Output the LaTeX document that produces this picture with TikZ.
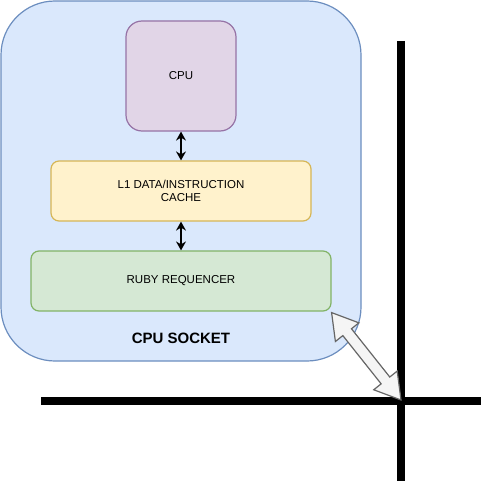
\documentclass[tikz,border=0pt]{standalone}
\usepackage{fontspec}
\setmainfont{Liberation Sans}
\usetikzlibrary{calc,arrows.meta}
\definecolor{sockfill}{HTML}{DAE8FC}\definecolor{sockdraw}{HTML}{6C8EBF}
\definecolor{cpufill}{HTML}{E1D5E7}\definecolor{cpudraw}{HTML}{9673A6}
\definecolor{l1fill}{HTML}{FFF2CC}\definecolor{l1draw}{HTML}{D6B656}
\definecolor{rbfill}{HTML}{D5E8D4}\definecolor{rbdraw}{HTML}{82B366}
\definecolor{arfill}{HTML}{F5F5F5}\definecolor{ardraw}{HTML}{666666}
\tikzset{
  box/.style={draw, line width=1.2pt, inner sep=0pt, align=center, font=\fontsize{11.5}{13.5}\selectfont},
  bus/.style={line width=8pt, draw=black},
  link/.style={line width=1.5pt, {Stealth[length=9pt,width=10pt,inset=3pt]}-{Stealth[length=9pt,width=10pt,inset=3pt]}},
}
\begin{document}
\begin{tikzpicture}[x=1pt,y=-1pt]
\useasboundingbox (0,0) rectangle (487,487);
\node[box, draw=sockdraw, fill=sockfill, rounded corners=54pt, minimum width=360pt, minimum height=360pt] (socket) at (181,181) {};
\node[box, draw=cpudraw, fill=cpufill, rounded corners=16pt, minimum width=110pt, minimum height=110pt] (cpu) at (181,76) {CPU};
\node[box, draw=l1draw, fill=l1fill, rounded corners=8pt, minimum width=260pt, minimum height=60pt] (l1) at (181,191) {L1 DATA/INSTRUCTION\\CACHE};
\node[box, draw=rbdraw, fill=rbfill, rounded corners=8pt, minimum width=300pt, minimum height=60pt] (ruby) at (181,281) {RUBY REQUENCER};
\node[font=\bfseries\fontsize{15}{17}\selectfont] (label) at (181,338) {CPU SOCKET};
\draw[link] (cpu.south) -- (l1.north);
\draw[link] (l1.south) -- (ruby.north);
\coordinate (vtop) at (401,41); \coordinate (vbot) at (401,481);
\coordinate (hleft) at (41,401); \coordinate (hright) at (481,401);
\draw[bus] (vtop) -- (vbot);
\draw[bus] (hleft) -- (hright);
\coordinate (A) at ($(ruby.south east)+(0,1)$);
\coordinate (B) at (401,400);
\coordinate (P1) at ($(A)!25pt!(B)$);
\coordinate (P2) at ($(B)!25pt!(A)$);
\draw[draw=ardraw, fill=arfill, line width=1.2pt, line join=miter]
  (A) -- ($(P1)!15pt!90:(B)$) -- ($(P1)!5.5pt!90:(B)$) -- ($(P2)!5.5pt!-90:(A)$) -- ($(P2)!15pt!-90:(A)$)
  -- (B) -- ($(P2)!15pt!90:(A)$) -- ($(P2)!5.5pt!90:(A)$) -- ($(P1)!5.5pt!-90:(B)$) -- ($(P1)!15pt!-90:(B)$) -- cycle;
\end{tikzpicture}
\end{document}
